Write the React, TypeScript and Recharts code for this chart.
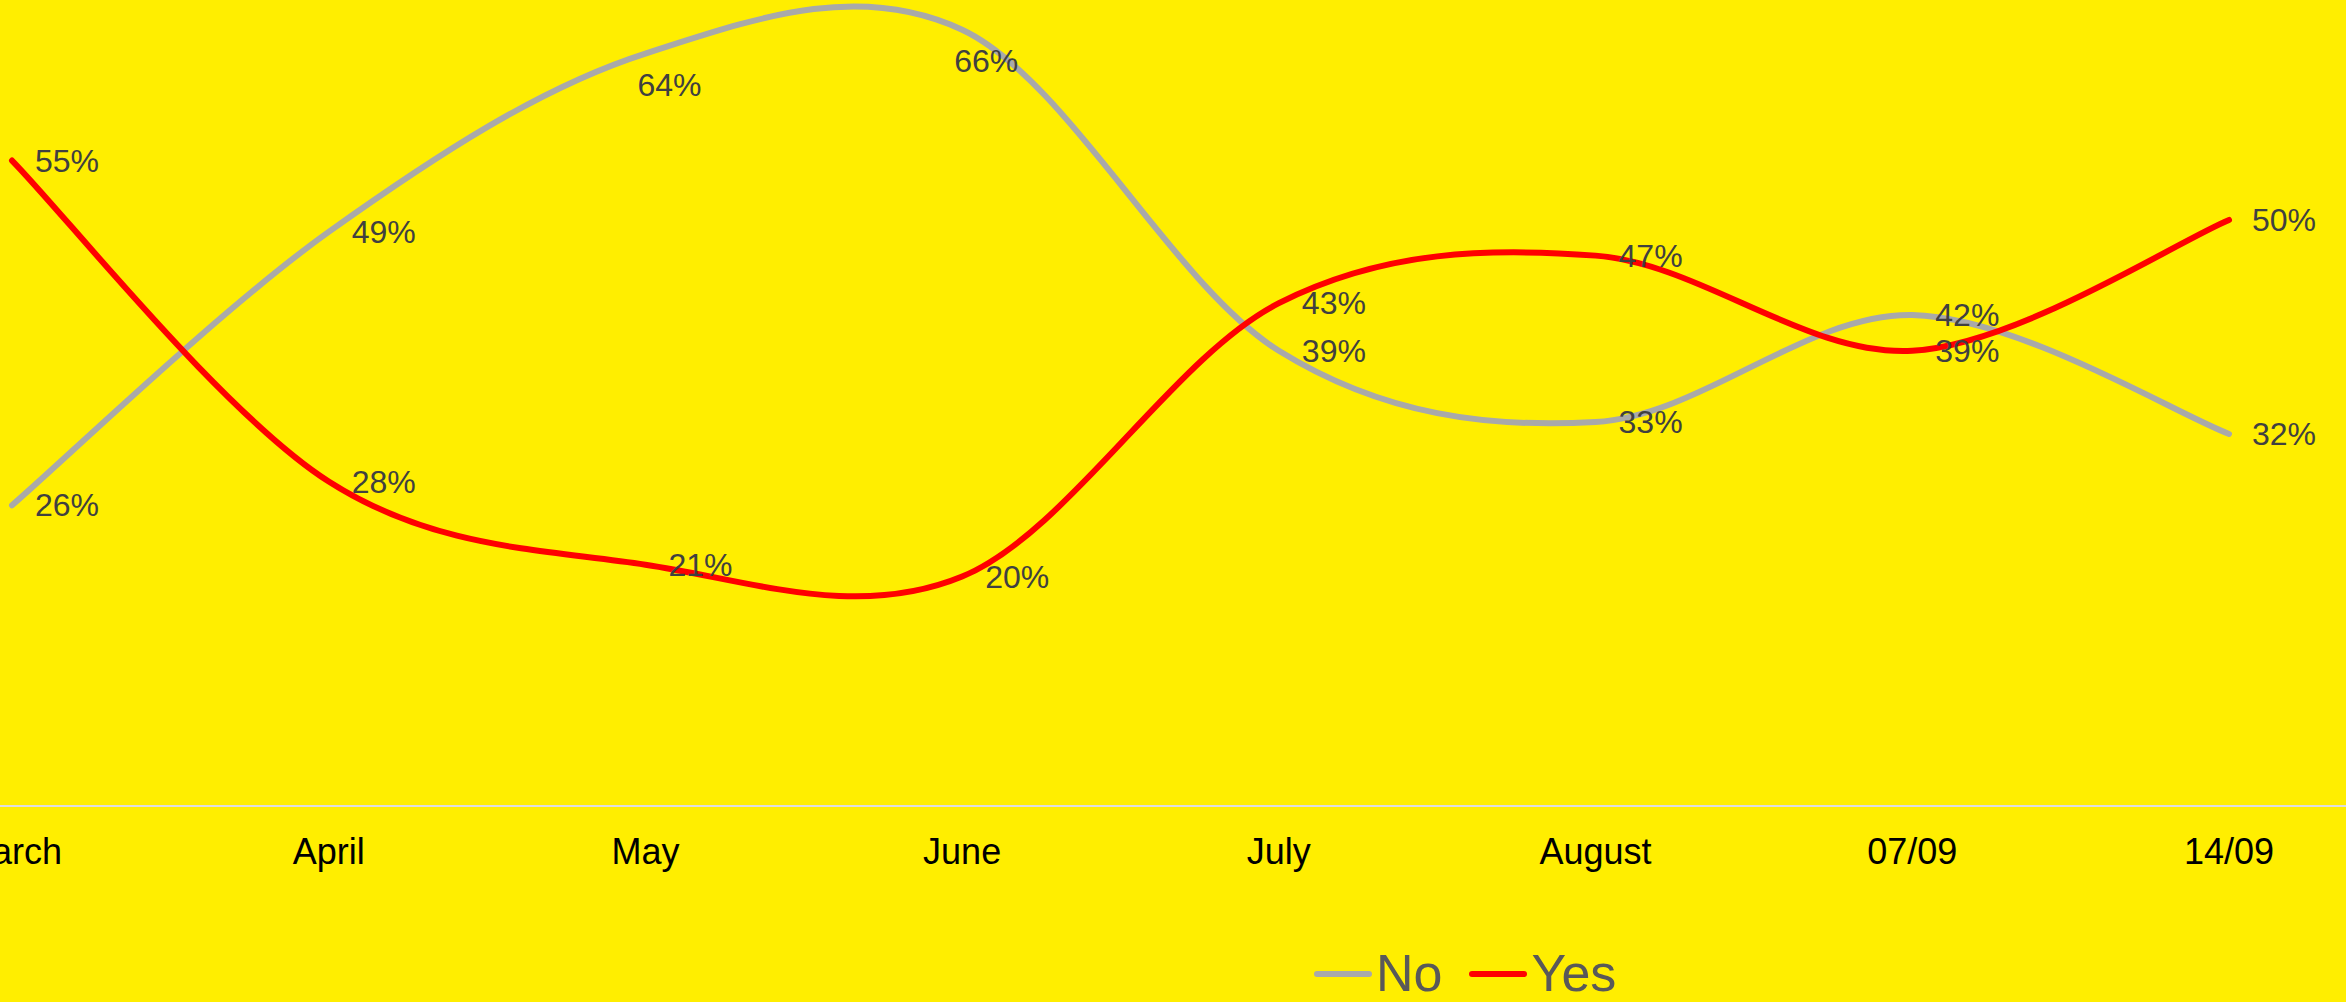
import React from 'react';
import { LineChart, Line, XAxis, YAxis, Legend, LabelList } from 'recharts';

const categories = ['March', 'April', 'May', 'June', 'July', 'August', '07/09', '14/09'];
const noValues = [26, 49, 64, 66, 39, 33, 42, 32];
const yesValues = [55, 28, 21, 20, 43, 47, 39, 50];

const data = categories.map((c, i) => ({ name: c, No: noValues[i], Yes: yesValues[i] }));

const FONT = '"Liberation Sans", Arial, sans-serif';
const BG = '#ffee00';
const GRAY = '#a9a9a9';
const RED = '#ff0000';

// Uniform Catmull-Rom (cardinal, tension 0) curve factory
function catmullRom(context: any) {
  let pts: [number, number][] = [];
  return {
    areaStart() {},
    areaEnd() {},
    lineStart() { pts = []; },
    lineEnd() {
      const n = pts.length;
      if (n === 0) return;
      context.moveTo(pts[0][0], pts[0][1]);
      if (n === 1) return;
      for (let i = 0; i < n - 1; i++) {
        const p0 = pts[i - 1] || pts[i];
        const p1 = pts[i];
        const p2 = pts[i + 1];
        const p3 = pts[i + 2] || pts[i + 1];
        const c1x = p1[0] + (p2[0] - p0[0]) / 6;
        const c1y = p1[1] + (p2[1] - p0[1]) / 6;
        const c2x = p2[0] - (p3[0] - p1[0]) / 6;
        const c2y = p2[1] - (p3[1] - p1[1]) / 6;
        context.bezierCurveTo(c1x, c1y, c2x, c2y, p2[0], p2[1]);
      }
    },
    point(x: number, y: number) { pts.push([+x, +y]); },
  };
}

const ValueLabel = (props: any) => {
  const { x, y, value } = props;
  if (x == null || y == null) return null;
  const nearTop = y < 70;
  const lx = nearTop ? x - 8 : x + 23;
  const ly = nearTop ? y + 31 : y;
  return (
    <text
      x={lx}
      y={ly}
      dy="0.35em"
      fill="#404040"
      fontSize={32}
      fontFamily={FONT}
      textAnchor="start"
    >
      {value}%
    </text>
  );
};

const LegendContent = () => {
  const items = [
    { name: 'No', color: GRAY },
    { name: 'Yes', color: RED },
  ];
  return (
    <div style={{ display: 'flex', alignItems: 'center', height: 57, fontFamily: FONT }}>
      {items.map((it, i) => (
        <div key={it.name} style={{ display: 'flex', alignItems: 'center', marginLeft: i === 0 ? 0 : 27 }}>
          <svg width={58} height={10} style={{ display: 'block' }}>
            <line x1={3} y1={5} x2={55} y2={5} stroke={it.color} strokeWidth={6} strokeLinecap="round" />
          </svg>
          <span style={{ fontSize: 52, color: '#595959', marginLeft: 4, lineHeight: '57px' }}>{it.name}</span>
        </div>
      ))}
    </div>
  );
};

export default function App() {
  return (
    <div style={{ position: 'absolute', left: 0, top: 0, width: 2346, height: 1002, background: BG, overflow: 'hidden' }}>
      <LineChart width={2346} height={1002} data={data} margin={{ top: 6, right: 0, left: 0, bottom: 0 }}>
        <XAxis
          dataKey="name"
          padding={{ left: 12, right: 117 }}
          height={139}
          axisLine={{ stroke: '#dddddd', strokeWidth: 2 }}
          tickLine={false}
          tickSize={0}
          tickMargin={32}
          tick={{ fill: '#000000', fontSize: 36, fontFamily: FONT }}
          interval={0}
        />
        <YAxis hide domain={[0.7, 68]} />
        <Legend
          verticalAlign="bottom"
          height={57}
          content={<LegendContent />}
          wrapperStyle={{ left: 1314, width: 'auto', bottom: 0 }}
        />
        <Line
          type={catmullRom as any}
          dataKey="No"
          stroke={GRAY}
          strokeWidth={6}
          strokeLinecap="round"
          dot={false}
          activeDot={false}
          isAnimationActive={false}
        >
          <LabelList dataKey="No" content={<ValueLabel />} />
        </Line>
        <Line
          type={catmullRom as any}
          dataKey="Yes"
          stroke={RED}
          strokeWidth={6}
          strokeLinecap="round"
          dot={false}
          activeDot={false}
          isAnimationActive={false}
        >
          <LabelList dataKey="Yes" content={<ValueLabel />} />
        </Line>
      </LineChart>
    </div>
  );
}
